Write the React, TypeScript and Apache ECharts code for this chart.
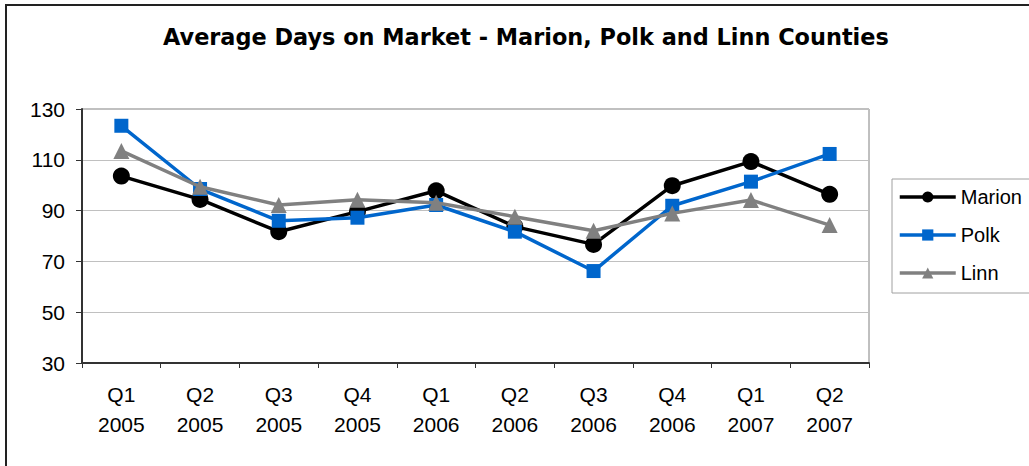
import React, { useEffect, useRef } from "react";
import * as echarts from "echarts";

const quarters = ["Q1", "Q2", "Q3", "Q4", "Q1", "Q2", "Q3", "Q4", "Q1", "Q2"];
const years = ["2005", "2005", "2005", "2005", "2006", "2006", "2006", "2006", "2007", "2007"];
const marion = [103.6, 94.4, 81.7, 89.6, 97.8, 83.7, 76.7, 99.8, 109.3, 96.4];
const polk = [123.4, 98.5, 86.0, 87.2, 92.2, 81.7, 66.2, 91.9, 101.4, 112.3];
const linn = [113.5, 99.4, 92.2, 94.3, 93.1, 87.6, 82.1, 88.9, 94.2, 84.3];
const yTicks = { min: 30, max: 130, interval: 20 };

const FONT = "'Liberation Sans', Arial, sans-serif";

export default function App() {
  const ref = useRef<HTMLDivElement>(null);
  useEffect(() => {
    if (!ref.current) return;
    const chart = echarts.init(ref.current, null, { renderer: "svg" });
    const categories = quarters.map((q, i) => `${q}\n${years[i]}`);
    chart.setOption({
      animation: false,
      backgroundColor: "#ffffff",
      textStyle: { fontFamily: FONT },
      title: {
        text: "Average Days on Market - Marion, Polk and Linn Counties",
        left: 163,
        top: 26,
        padding: 0,
        textStyle: { fontFamily: "'DejaVu Sans', sans-serif", fontSize: 22.4, fontWeight: "bold", color: "#000" },
      },
      graphic: [
        {
          type: "rect",
          shape: { x: 6, y: 5, width: 1040, height: 480 },
          style: { fill: "none", stroke: "#222", lineWidth: 2 },
          silent: true,
        },
      ],
      legend: {
        orient: "vertical",
        left: 892,
        top: 179,
        padding: [8, 30, 10, 6],
        itemWidth: 56,
        itemHeight: 14,
        itemGap: 18,
        borderColor: "#a0a0a0",
        borderWidth: 1,
        lineStyle: { width: 3.5 },
        textStyle: { fontFamily: FONT, fontSize: 20, color: "#000" },
        data: ["Marion", "Polk", "Linn"],
      },
      grid: {
        left: 82,
        right: 160,
        top: 109,
        bottom: 103,
        show: true,
        borderColor: "#808080",
        borderWidth: 1,
      },
      xAxis: {
        type: "category",
        data: categories,
        boundaryGap: true,
        axisLine: { lineStyle: { color: "#333", width: 2 } },
        axisTick: { show: true, length: 5, lineStyle: { color: "#333", width: 1 } },
        axisLabel: {
          fontFamily: FONT,
          fontSize: 21,
          color: "#000",
          lineHeight: 30,
          margin: 16,
          interval: 0,
        },
      },
      yAxis: {
        type: "value",
        min: yTicks.min,
        max: yTicks.max,
        interval: yTicks.interval,
        axisLine: { show: true, lineStyle: { color: "#333", width: 2 } },
        axisTick: { show: true, length: 6, lineStyle: { color: "#333" } },
        axisLabel: { fontFamily: FONT, fontSize: 21, color: "#000", margin: 17 },
        splitLine: { lineStyle: { color: "#c0c0c0", width: 1 } },
      },
      series: [
        {
          name: "Marion",
          type: "line",
          data: marion,
          symbol: "circle",
          symbolSize: 17,
          lineStyle: { color: "#000000", width: 3.5 },
          itemStyle: { color: "#000000" },
          z: 3,
        },
        {
          name: "Polk",
          type: "line",
          data: polk,
          symbol: "rect",
          symbolSize: 14,
          lineStyle: { color: "#0066cc", width: 3.5 },
          itemStyle: { color: "#0066cc" },
          z: 4,
        },
        {
          name: "Linn",
          type: "line",
          data: linn,
          symbol: "triangle",
          symbolSize: 16,
          lineStyle: { color: "#808080", width: 3.5 },
          itemStyle: { color: "#808080" },
          z: 5,
        },
      ],
    });
    return () => chart.dispose();
  }, []);
  return (
    <div
      ref={ref}
      style={{ position: "fixed", left: 0, top: 0, width: 1029, height: 466 }}
    />
  );
}
